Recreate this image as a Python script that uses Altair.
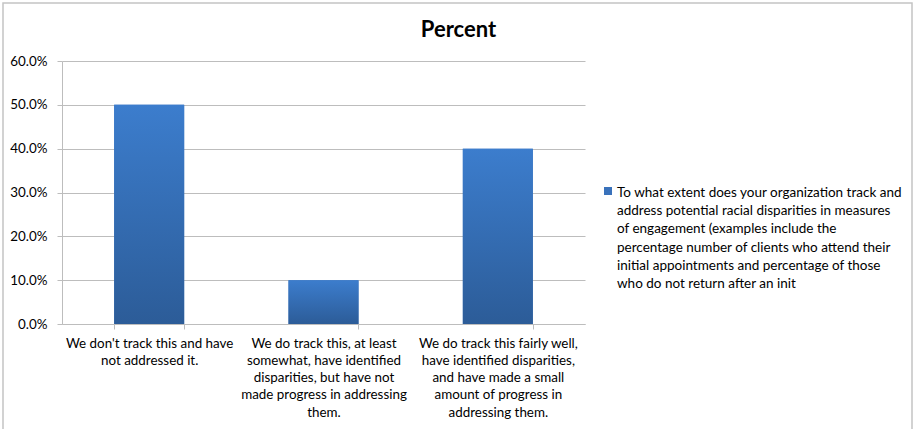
import altair as alt
import pandas as pd

# Response categories (line breaks mark where the axis labels wrap)
categories = [
    "We don't track this and have\nnot addressed it.",
    "We do track this, at least\nsomewhat, have identified\ndisparities, but have not\nmade progress in addressing\nthem.",
    "We do track this fairly well,\nhave identified disparities,\nand have made a small\namount of progress in\naddressing them.",
]
percent = [0.50, 0.10, 0.40]
series_lines = [
    "To what extent does your organization track and",
    "address potential racial disparities in measures",
    "of engagement (examples include the",
    "percentage number of clients who attend their",
    "initial appointments and percentage of those",
    "who do not return after an init",
]
y_ticks = [0.0, 0.1, 0.2, 0.3, 0.4, 0.5, 0.6]

series_name = " ".join(series_lines)
df = pd.DataFrame({"category": categories, "percent": percent, "series": series_name})

FONT = "Lato"
GRID = "#bdbdbd"

x_enc = alt.X(
    "category:N",
    sort=categories,
    title=None,
    scale=alt.Scale(paddingInner=0.6, paddingOuter=0.3),
    axis=alt.Axis(
        labelAngle=0,
        labelExpr="split(datum.label, '\\n')",
        labelLineHeight=17.3,
        labelFontSize=13.4,
        labelColor="#000000",
        labelPadding=7,
        labelLimit=300,
        tickBand="extent",
        tickSize=5,
        tickColor=GRID,
        domainColor=GRID,
        grid=False,
    ),
)
y_enc = alt.Y(
    "percent:Q",
    title=None,
    scale=alt.Scale(domain=[0, 0.6], nice=False),
    axis=alt.Axis(
        values=y_ticks,
        format=".1%",
        labelFontSize=13.4,
        labelColor="#000000",
        labelPadding=10,
        tickSize=5,
        tickColor=GRID,
        domainColor=GRID,
        gridColor=GRID,
    ),
)

base = alt.Chart(df)

# Solid layer carries the legend entry; the wrapped series name is shown
# as the legend title placed to the right of the swatch
legend_bars = base.mark_bar(size=70).encode(
    x=x_enc,
    y=y_enc,
    color=alt.Color(
        "series:N",
        scale=alt.Scale(range=["#3a72bb"]),
        legend=alt.Legend(
            title=series_lines,
            titleOrient="right",
            titleAnchor="start",
            titleBaseline="top",
            titleFontSize=13.5,
            titleFontWeight="normal",
            titleColor="#000000",
            titleLineHeight=18.2,
            titleLimit=400,
            titlePadding=4,
            orient="none",
            legendX=541,
            legendY=125,
            symbolType="square",
            symbolSize=64,
            symbolOpacity=1,
            labelExpr="''",
            labelOffset=0,
            labelPadding=0,
        ),
    ),
)

# Gradient-filled bars drawn over the solid layer
gradient_bars = base.mark_bar(
    size=70,
    color=alt.Gradient(
        gradient="linear",
        stops=[
            alt.GradientStop(color="#3c7dcd", offset=0),
            alt.GradientStop(color="#2c5c98", offset=1),
        ],
        x1=0, x2=0, y1=0, y2=1,
    ),
).encode(x=x_enc, y=y_enc)

# Chart-area border
frame = alt.Chart(pd.DataFrame({"f": [0]})).mark_rect(
    fill=None, stroke="#c4c4c4", strokeWidth=1.5
).encode(
    x=alt.value(-59), x2=alt.value(850), y=alt.value(-58), y2=alt.value(400)
)

chart = (
    alt.layer(frame, legend_bars, gradient_bars)
    .properties(
        width=523,
        height=263,
        padding={"left": 62, "top": 61, "right": 331, "bottom": 105},
        autosize=alt.AutoSizeParams(type="none"),
        title=alt.TitleParams(
            "Percent",
            fontSize=22,
            font=FONT,
            fontWeight="bold",
            color="#000000",
            anchor="middle",
            baseline="alphabetic",
            dx=135,
            offset=-57,
        ),
    )
    .configure(font=FONT)
    .configure_view(stroke=None)
    .configure_axis(labelFont=FONT)
    .configure_legend(labelFont=FONT, titleFont=FONT)
)

chart.save("out.html", embed_options={"renderer": "svg", "actions": False})
